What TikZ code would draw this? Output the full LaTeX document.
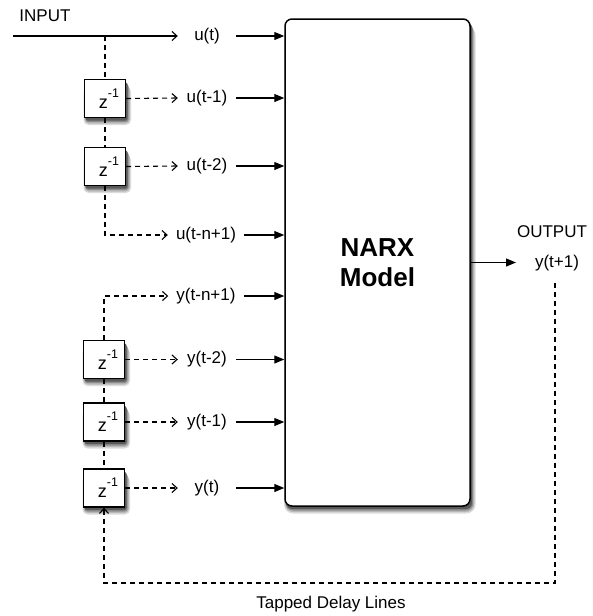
\documentclass[tikz,border=0pt]{standalone}
\usepackage{fontspec}
\setmainfont{Liberation Sans}
\usetikzlibrary{arrows.meta}
\newcommand{\zinv}{\hspace*{8pt}z\raisebox{11pt}{\fontsize{12.5}{12.5}\selectfont -1}}
% soft shadow of a box: centre x, centre y, half width, half height, corner radius
\newcommand{\softshadow}[5]{%
  \fill[black!14, rounded corners=#5+3pt] (#1-#3-1,#2-#4+7.5) rectangle (#1+#3+5.5,#2+#4+7.5);
  \fill[black!28, rounded corners=#5+2pt] (#1-#3,#2-#4+6) rectangle (#1+#3+4.3,#2+#4+6);
  \fill[black!45, rounded corners=#5+1pt] (#1-#3+0.8,#2-#4+4.5) rectangle (#1+#3+3.2,#2+#4+4.5);
  \fill[black!65, rounded corners=#5] (#1-#3+1.2,#2-#4+3) rectangle (#1+#3+2,#2+#4+3);}
\begin{document}
\begin{tikzpicture}[x=1pt,y=-1pt,
  lbl/.style={font=\fontsize{17}{20}\selectfont, inner xsep=8pt, inner ysep=2pt, minimum width=58pt},
  plain/.style={font=\fontsize{17}{20}\selectfont, inner sep=1pt},
  delaybox/.style={draw, line width=1.3pt, fill=white, minimum width=41pt, minimum height=38pt, inner sep=0pt, font=\fontsize{18}{20}\selectfont},
  modelbox/.style={draw, line width=1.5pt, fill=white, rounded corners=7pt, minimum width=185pt, minimum height=487pt, align=center, font=\fontsize{26}{30}\selectfont\bfseries},
  solidarr/.style={line width=1.2pt, -{Triangle[length=10pt,width=8pt]}},
  openarr/.style={line width=1.1pt, -{Straight Barb[length=5pt,width=9pt]}},
  dashln/.style={line width=1.1pt, dash pattern=on 5pt off 4pt},
]
\useasboundingbox (0,0) rectangle (593,616);

% soft shadows under the boxes
\softshadow{377.5}{262.5}{92.5}{243.5}{6pt}
\softshadow{105}{98.5}{20.5}{19}{2pt}
\softshadow{105}{166.5}{20.5}{19}{2pt}
\softshadow{104}{359.5}{20.5}{19}{2pt}
\softshadow{104}{422}{20.5}{19}{2pt}
\softshadow{104}{488}{20.5}{19}{2pt}

% main model
\node[modelbox] (model) at (377.5,262.5) {NARX\\Model};

% input side
\node[plain] (inputlbl) at (45,16) {INPUT};
\coordinate (in) at (13,36);
\node[lbl] (u0) at (207,36) {u(t)};
\node[lbl] (u1) at (207,98) {u(t-1)};
\node[lbl] (u2) at (207,166) {u(t-2)};
\node[lbl] (un) at (206,235) {u(t-n+1)};

\node[delaybox] (d1) at (105,98.5) {\zinv};
\node[delaybox] (d2) at (105,166.5) {\zinv};

\coordinate (tapu) at (105,36);
\coordinate (cornu) at (105,235);

\draw[line width=1.1pt, -{Straight Barb[length=5pt,width=9pt]}] (in) -- (u0.west);
\draw[dashln] (tapu) -- (d1.north);
\draw[dashln] (d1.south) -- (d2.north);
\draw[dashln, openarr] (d2.south) -- (cornu) -- (un.west);
\draw[dashln, openarr] (d1.east) -- (u1.west);
\draw[dashln, openarr] (d2.east) -- (u2.west);

% output side feedback
\node[lbl] (yn) at (206,296) {y(t-n+1)};
\node[lbl] (y2) at (207,359.5) {y(t-2)};
\node[lbl] (y1) at (207,422) {y(t-1)};
\node[lbl] (y0) at (207,488) {y(t)};

\node[delaybox] (dA) at (104,359.5) {\zinv};
\node[delaybox] (dB) at (104,422) {\zinv};
\node[delaybox] (dC) at (104,488) {\zinv};

\coordinate (corny) at (104,296);
\draw[dashln, openarr] (dA.north) -- (corny) -- (yn.west);
\draw[dashln] (dA.south) -- (dB.north);
\draw[dashln] (dB.south) -- (dC.north);
\draw[dashln, openarr] (dA.east) -- (y2.west);
\draw[dashln, openarr] (dB.east) -- (y1.west);
\draw[dashln, openarr] (dC.east) -- (y0.west);

% solid inputs into model
\foreach \n in {u0,u1,u2,un,yn,y2,y1,y0}
  \draw[solidarr] (\n.east) -- (model.west |- \n);

% output
\node[plain] (outlbl) at (552,232) {OUTPUT};
\node[plain] (yout) at (557,263) {y(t+1)};
\coordinate (outtip) at (516,262.5);
\draw[solidarr] (model.east |- outtip) -- (outtip);

\coordinate (fbtop) at (555,283);
\coordinate (fbr) at (555,583);
\coordinate (fbl) at (104,583);
\draw[dashln, openarr] (fbtop) -- (fbr) -- (fbl) -- (dC.south);

\node[plain] (tdl) at (331,604) {Tapped Delay Lines};
\end{tikzpicture}
\end{document}
